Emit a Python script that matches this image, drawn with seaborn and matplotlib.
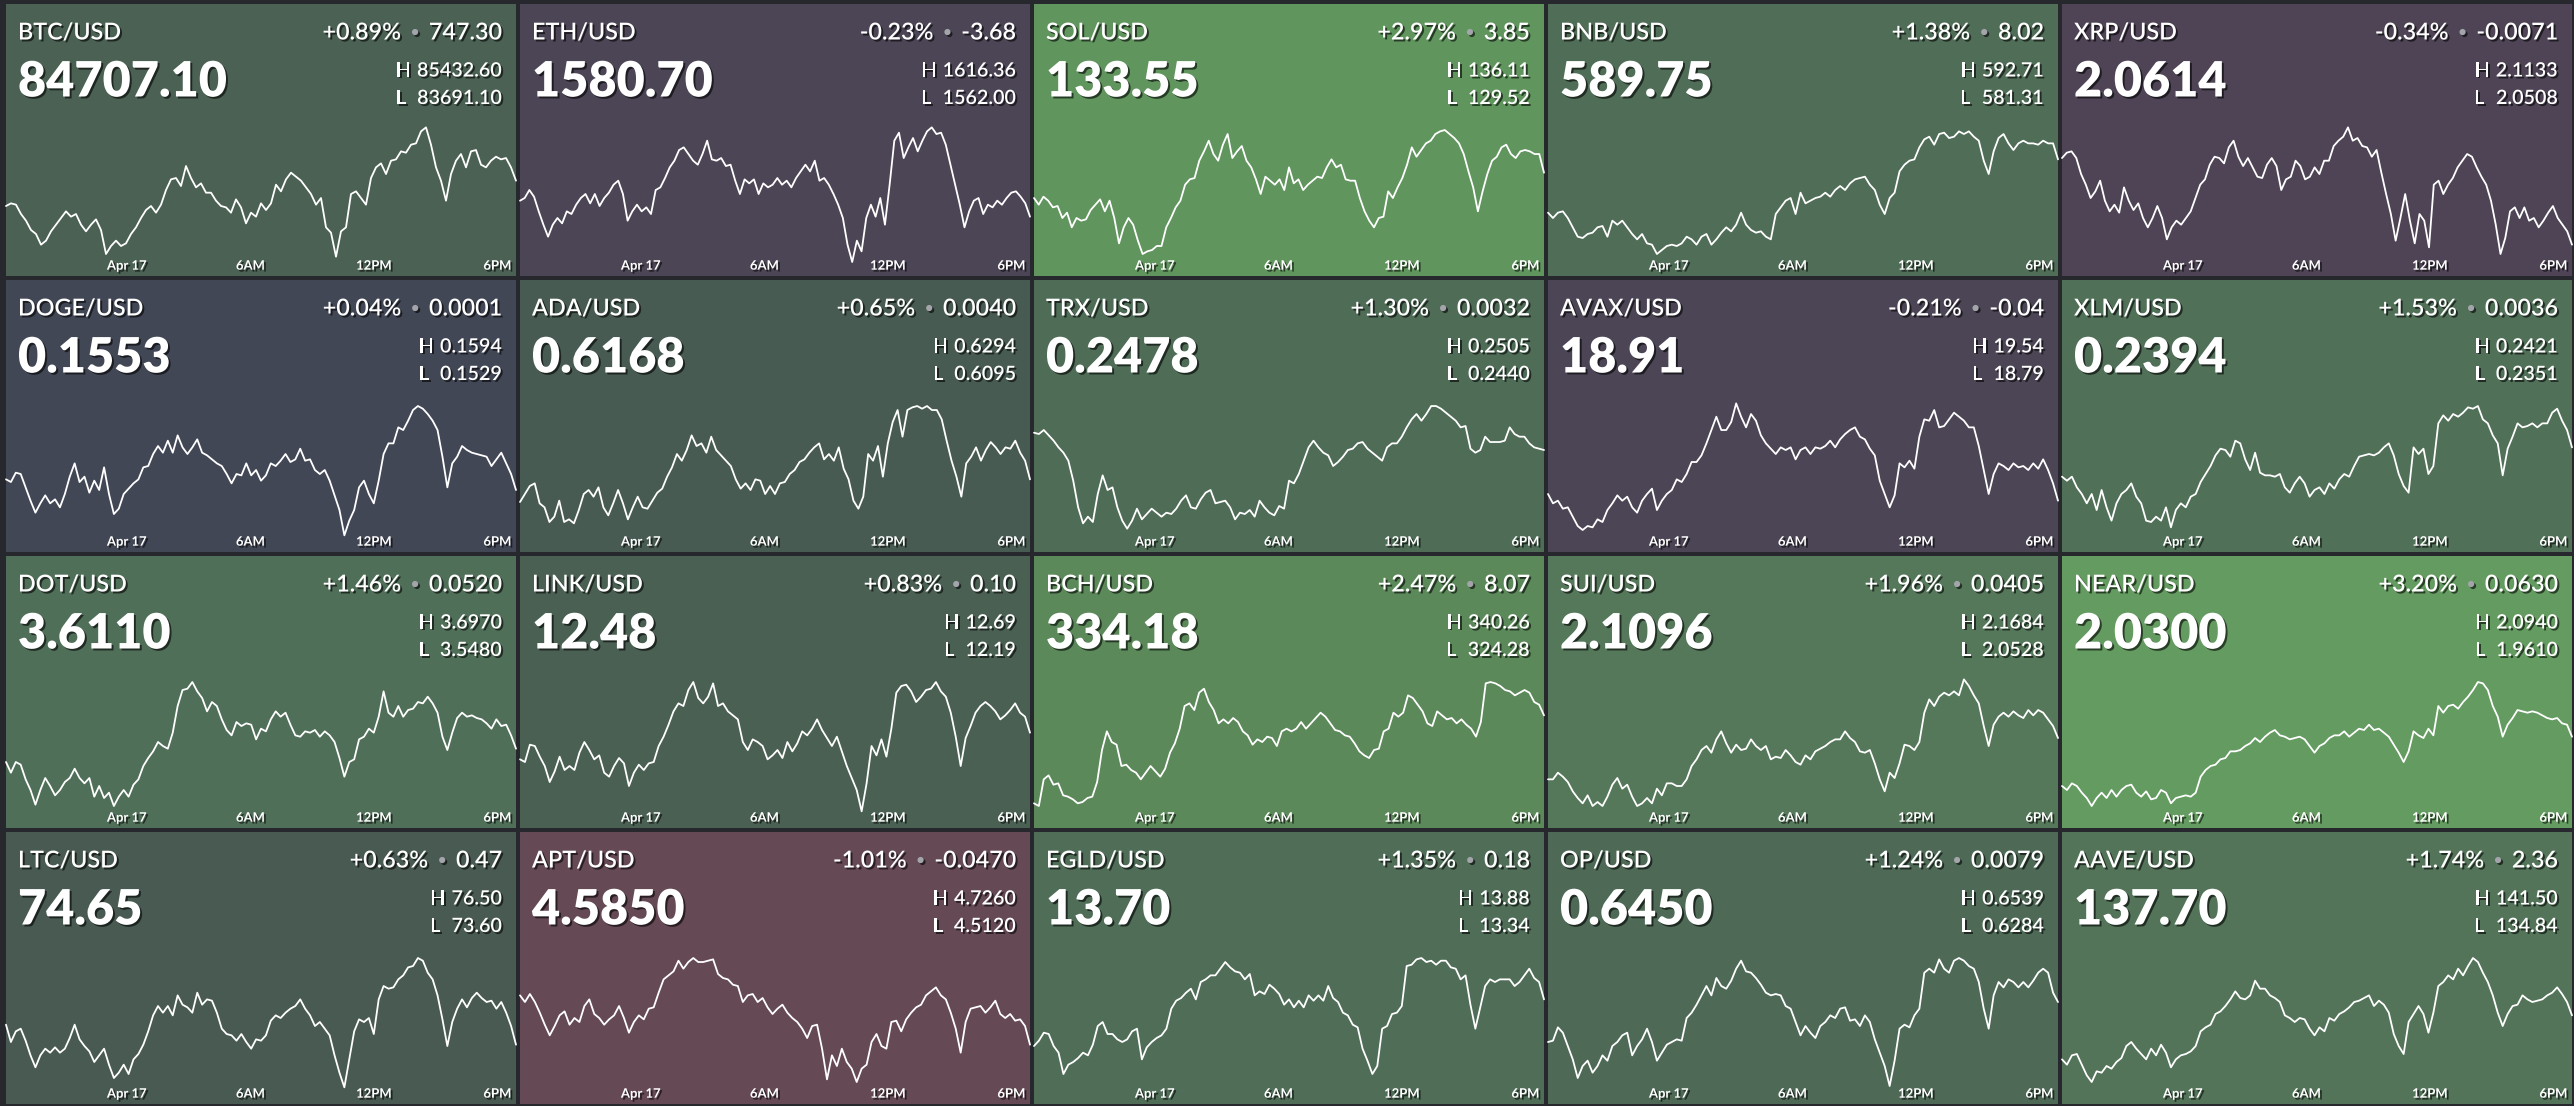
import numpy as np
import pandas as pd
import seaborn as sns
import matplotlib
matplotlib.use("Agg")
import matplotlib.pyplot as plt
import matplotlib.dates as mdates
from matplotlib import patheffects

# ---- tile data -------------------------------------------------------------
symbols = ["BTC/USD", "ETH/USD", "SOL/USD", "BNB/USD", "XRP/USD",
           "DOGE/USD", "ADA/USD", "TRX/USD", "AVAX/USD", "XLM/USD",
           "DOT/USD", "LINK/USD", "BCH/USD", "SUI/USD", "NEAR/USD",
           "LTC/USD", "APT/USD", "EGLD/USD", "OP/USD", "AAVE/USD"]
last_price = ["84707.10", "1580.70", "133.55", "589.75", "2.0614",
              "0.1553", "0.6168", "0.2478", "18.91", "0.2394",
              "3.6110", "12.48", "334.18", "2.1096", "2.0300",
              "74.65", "4.5850", "13.70", "0.6450", "137.70"]
pct_change = [0.89, -0.23, 2.97, 1.38, -0.34,
              0.04, 0.65, 1.30, -0.21, 1.53,
              1.46, 0.83, 2.47, 1.96, 3.20,
              0.63, -1.01, 1.35, 1.24, 1.74]
abs_change = ["747.30", "-3.68", "3.85", "8.02", "-0.0071",
              "0.0001", "0.0040", "0.0032", "-0.04", "0.0036",
              "0.0520", "0.10", "8.07", "0.0405", "0.0630",
              "0.47", "-0.0470", "0.18", "0.0079", "2.36"]
day_high = ["85432.60", "1616.36", "136.11", "592.71", "2.1133",
            "0.1594", "0.6294", "0.2505", "19.54", "0.2421",
            "3.6970", "12.69", "340.26", "2.1684", "2.0940",
            "76.50", "4.7260", "13.88", "0.6539", "141.50"]
day_low = ["83691.10", "1562.00", "129.52", "581.31", "2.0508",
           "0.1529", "0.6095", "0.2440", "18.79", "0.2351",
           "3.5480", "12.19", "324.28", "2.0528", "1.9610",
           "73.60", "4.5120", "13.34", "0.6284", "134.84"]

tick_times = ["2025-04-17 00:00", "2025-04-17 06:00", "2025-04-17 12:00", "2025-04-17 18:00"]
tick_labels = ["Apr 17", "6AM", "12PM", "6PM"]
window_start = "2025-04-16 18:08"
window_hours = 24.78

# sparkline paths, position inside the 24h range (0 = low, 100 = high)
btc = [39, 41, 40, 33, 28, 21, 18, 10, 13, 20, 25, 30, 35, 31, 33, 25, 20, 25, 29, 21, 3, 9, 13, 9, 11, 18, 23, 30, 36, 39,
       34, 40, 51, 59, 60, 54, 69, 60, 53, 56, 49, 49, 43, 39, 38, 34, 44, 38, 26, 34, 31, 41, 36, 41, 55, 50, 59, 64, 61, 58,
       53, 48, 40, 45, 23, 19, 1, 20, 23, 48, 50, 45, 40, 60, 68, 71, 63, 73, 74, 80, 79, 85, 86, 95, 98, 85, 68, 58, 43, 63,
       73, 78, 68, 80, 81, 70, 68, 73, 76, 74, 75, 68, 58]
eth = [43, 45, 51, 46, 35, 25, 16, 25, 30, 26, 35, 33, 40, 45, 48, 41, 48, 39, 45, 49, 55, 58, 48, 28, 35, 40, 35, 38, 33, 51,
       53, 60, 68, 73, 81, 83, 78, 73, 70, 78, 88, 74, 73, 75, 69, 70, 58, 48, 59, 56, 59, 48, 56, 53, 55, 60, 55, 58, 53, 60,
       65, 70, 65, 73, 58, 60, 55, 48, 40, 30, 10, -3, 13, 5, 30, 40, 31, 45, 25, 55, 88, 94, 75, 83, 90, 80, 88, 95, 98, 93,
       94, 85, 70, 55, 40, 23, 35, 43, 45, 33, 40, 38, 43, 40, 45, 49, 50, 46, 41, 31]
sol = [45, 40, 46, 43, 38, 39, 30, 34, 23, 30, 28, 29, 36, 40, 44, 35, 43, 30, 11, 23, 30, 25, 13, 3, 5, 6, 9, 9, 23, 30,
       38, 43, 55, 59, 60, 73, 80, 88, 78, 73, 85, 93, 75, 80, 84, 73, 68, 59, 48, 61, 58, 55, 59, 51, 68,
       56, 59, 51, 55, 58, 61, 60, 68, 74, 68, 70, 59, 58, 58, 45, 35, 28, 23, 30, 31, 50, 45, 53, 60, 70, 83, 76, 81, 86, 88,
       93, 95, 96, 93, 90, 86, 78, 65, 53, 35, 50, 63, 73, 76, 83, 85, 78, 75, 80, 81, 80, 78, 78, 64]
bnb = [34, 30, 34, 35, 30, 23, 16, 15, 18, 19, 23, 24, 16, 28, 25, 28, 23, 18, 14, 18, 11, 10, 3, 6, 9, 10, 9, 11, 16, 14,
       10, 16, 18, 10, 14, 19, 23, 20, 25, 34, 25, 21, 19, 20, 16, 14, 33, 38, 43, 45, 33, 49, 41, 43, 45, 46, 49, 46, 51, 54,
       51, 56, 59, 60, 61, 55, 51, 40, 33, 45, 49, 65, 70, 73, 74, 83, 89, 91, 85, 93, 94, 90, 91, 95, 93, 95, 91, 88, 73, 63,
       80, 90, 93, 86, 81, 86, 88, 86, 86, 85, 88, 86, 86, 74]
xrp = [75, 79, 80, 75, 63, 55, 45, 50, 58, 43, 35, 40, 34, 53, 43, 36, 41, 30, 23, 30, 39, 30, 14, 23, 28, 25, 30, 35, 45, 55,
       59, 70, 76, 75, 71, 83, 88, 76, 69, 75, 68, 61, 60, 70, 75, 69, 51, 59, 61, 73, 69, 59, 61, 68, 63, 73, 73, 84, 88, 91,
       98, 88, 90, 84, 83, 76, 81, 64, 48, 33, 13, 30, 48, 28, 11, 33, 28, 8, 55, 58, 48, 55, 60, 68, 73, 78, 76, 68, 61, 55,
       43, 25, 3, 15, 35, 38, 30, 38, 28, 30, 23, 28, 34, 39, 30, 25, 20, 10]
doge = [41, 39, 46, 45, 35, 25, 16, 23, 29, 23, 26, 20, 30, 43, 53, 39, 43, 31, 40, 33, 50, 30, 15, 19, 30, 34, 38, 41, 50, 51,
        60, 66, 61, 70, 61, 74, 65, 60, 65, 71, 61, 59, 56, 53, 51, 45, 38, 45, 44, 53, 44, 48, 40, 44, 53, 51, 55, 60, 54, 56,
        64, 55, 56, 48, 45, 48, 40, 29, 18, -1, 10, 18, 35, 40, 30, 23, 40, 60, 68, 68, 80, 78, 85, 93, 96, 94, 90, 85, 78, 58,
        35, 53, 58, 66, 63, 61, 60, 59, 58, 51, 56, 61, 53, 45, 33]
ada = [24, 30, 36, 38, 23, 20, 9, 13, 25, 9, 11, 8, 18, 30, 33, 28, 35, 20, 14, 23, 33, 23, 11, 20, 28, 20, 19, 25, 31, 34,
       43, 50, 60, 55, 63, 74, 66, 68, 61, 73, 63, 59, 55, 51, 41, 34, 38, 33, 41, 40, 30, 36, 30, 38, 39, 45, 48, 54, 56, 61,
       65, 68, 56, 60, 55, 65, 49, 41, 25, 19, 28, 60, 55, 66, 43, 68, 84, 93, 73, 93, 95, 96, 94, 96, 93, 93, 86, 70, 55, 43,
       28, 53, 58, 65, 55, 63, 69, 65, 60, 65, 64, 70, 61, 55, 41]
trx = [76, 75, 78, 74, 70, 65, 61, 55, 40, 20, 8, 13, 9, 30, 44, 33, 35, 20, 10, 4, 10, 19, 11, 15, 19, 16, 13, 16, 15, 19,
       25, 29, 20, 19, 26, 31, 33, 23, 24, 25, 20, 11, 16, 15, 18, 13, 25, 20, 16, 14, 21, 19, 40,
       38, 45, 55, 65, 70, 65, 61, 59, 51, 54, 58, 63, 64, 68, 69, 64, 61, 58, 55, 65, 68, 68, 73, 80, 86, 90, 85, 90, 96, 96,
       94, 91, 88, 85, 80, 81, 64, 61, 63, 73, 69, 69, 69, 70, 80, 75, 73, 73, 68, 65, 64, 63]
avax = [30, 23, 25, 19, 20, 13, 6, 3, 6, 5, 11, 9, 18, 23, 29, 25, 28, 20, 16, 25, 30, 34, 18, 25, 30, 33, 41, 39, 45, 54,
        54, 59, 68, 78, 88, 78, 78, 84, 98, 88, 80, 90, 85, 74, 68, 64, 60, 65, 63, 65, 56, 63, 65, 60, 65, 64, 66, 70, 65, 71,
        75, 78, 80, 73, 71, 64, 59, 40, 30, 20, 29, 53, 50, 55, 49, 73, 86, 85, 93, 80, 81, 86, 91, 88, 85, 80, 80, 66, 48, 30,
        45, 53, 51, 48, 53, 50, 51, 48, 53, 49, 56, 48, 38, 25]
xlm = [43, 40, 43, 35, 30, 23, 30, 18, 33, 20, 10, 23, 30, 33, 38, 28, 23, 10, 9, 13, 10, 20, 5, 18, 23, 20, 28, 30, 39, 45,
       51, 59, 64, 63, 58, 70, 68, 56, 48, 61, 46, 44, 44, 43, 45, 35, 31, 38, 43, 38, 28, 33, 35, 30, 38, 34, 41, 45, 43, 51,
       58, 59, 60, 59, 61, 65, 68, 59, 45, 36, 31, 65, 60, 64, 45, 51, 83, 89, 85, 90, 88, 91, 95, 94, 96, 86, 83, 74, 68, 44,
       64, 73, 83, 80, 81, 83, 80, 83, 83, 91, 94, 85, 78, 65]
dot = [36, 28, 36, 34, 23, 15, 4, 15, 24, 18, 11, 15, 21, 24, 31, 24, 20, 24, 10, 18, 9, 13, 3, 10, 15, 10, 19, 23, 33, 39,
       44, 51, 48, 46, 58, 78, 90, 91, 96, 89, 84, 74, 81, 78, 68, 60, 56, 66, 63, 65, 64, 53, 61, 59, 68, 74, 70, 73, 64, 56,
       55, 59, 58, 60, 55, 59, 56, 51, 39, 25, 36, 38, 53, 55, 61, 58, 70, 89, 73, 70, 78, 70, 75, 76, 81, 80, 85, 80, 73, 55,
       45, 58, 69, 73, 70, 71, 69, 68, 65, 61, 68, 63, 64, 56, 46]
link = [38, 36, 49, 48, 40, 33, 21, 29, 40, 30, 33, 30, 43, 51, 45, 38, 41, 28, 25, 33, 39, 35, 18, 28, 34, 30, 35, 36, 48, 55,
        64, 74, 80, 78, 90, 96, 84, 80, 85, 95, 78, 80, 74, 71, 68, 51, 45, 53, 51, 48, 38, 41, 45, 39, 51, 44, 50, 59, 56, 61,
        68, 60, 54, 48, 55, 44, 33, 24, 15, -1, 20, 48, 41, 53, 40, 61, 88, 93, 94, 89, 81, 85, 90, 91, 96, 89, 85, 73, 55, 33,
        54, 63, 73, 78, 81, 78, 74, 68, 71, 75, 80, 73, 70, 58]
bch = [5, 3, 23, 26, 19, 20, 11, 10, 8, 5, 6, 9, 10, 21, 45, 59, 51, 49, 33, 34, 30, 28, 23, 28, 33, 29, 25, 31, 43, 50,
       61, 78, 80, 75, 88, 91, 81, 75, 65, 68, 65, 69, 66, 59, 56, 49, 53, 51, 55, 54, 48, 59, 61,
       59, 61, 66, 61, 65, 69, 73, 70, 65, 60, 59, 56, 55, 50, 44, 41, 39, 45, 46, 59, 61, 73, 70, 73, 86, 84, 79, 74, 65, 63,
       74, 71, 68, 69, 65, 68, 64, 61, 55, 66, 95, 96, 95, 93, 90, 89, 86, 88, 90, 88, 81, 79, 71]
sui = [23, 23, 28, 25, 21, 14, 9, 5, 11, 3, 6, 3, 10, 19, 24, 16, 19, 10, 3, 5, 9, 5, 16, 11, 20, 20, 18, 18, 23, 33,
       38, 45, 48, 43, 53, 59, 50, 43, 49, 45, 46, 53, 48, 45, 48, 38, 40, 39, 45, 41, 36, 34, 41, 38, 44, 46, 48, 51, 53, 53,
       59, 54, 51, 44, 43, 45, 35, 23, 14, 28, 24, 35, 49, 48, 45, 51, 73, 83, 78, 85, 88, 86, 89, 86, 98, 93, 86, 80, 63, 48,
       64, 70, 73, 70, 74, 71, 69, 75, 71, 75, 73, 68, 63, 54]
near = [18, 15, 20, 18, 13, 9, 3, 9, 13, 9, 15, 10, 15, 18, 19, 13, 10, 14, 8, 9, 15, 13, 5, 9, 10, 11, 10, 13, 25, 30,
        33, 34, 38, 39, 44, 44, 45, 48, 50, 54, 51, 55, 58, 60, 56, 55, 53, 54, 55, 53, 48, 43, 48, 50, 54, 56, 56, 59, 55, 58,
        61, 60, 64, 60, 61, 58, 55, 49, 43, 36, 44, 59, 56, 54, 61, 56, 78, 73, 78, 79, 76, 81, 85, 90, 96, 95, 90, 78, 70, 55,
        64, 69, 75, 74, 73, 74, 73, 71, 69, 68, 69, 65, 64, 55]
ltc = [46, 33, 41, 43, 34, 23, 14, 23, 28, 25, 29, 25, 28, 36, 46, 35, 30, 26, 18, 23, 28, 16, 6, 10, 16, 9, 20, 24, 31, 41,
       53, 60, 55, 60, 53, 68, 61, 59, 55, 70, 61, 65, 64, 55, 43, 39, 38, 34, 39, 33, 28, 35, 34, 38, 49, 53, 51, 55, 58, 60,
       65, 58, 53, 45, 48, 43, 38, 23, 10, -1, 20, 41, 50, 48, 51, 39, 65, 75, 73, 74, 80, 83, 89, 90, 96, 94, 85, 80, 68, 50,
       30, 48, 58, 65, 59, 66, 70, 66, 63, 64, 58, 63, 55, 45, 31]
apt = [68, 63, 69, 63, 55, 46, 38, 45, 53, 56, 46, 51, 48, 60, 65, 54, 51, 46, 50, 53, 60, 51, 40, 48, 53, 50, 58, 59, 70, 80,
       83, 86, 94, 88, 93, 96, 93, 93, 94, 95, 84, 81, 80, 76, 75, 63, 68, 69, 63, 66, 59, 54, 58, 61, 55, 51, 48, 43, 36, 45,
       46, 28, 5, 23, 15, 28, 18, 13, 3, 13, 16, 33, 39, 30, 28, 48, 49, 41, 50, 55, 59, 61, 68, 71, 74, 68, 65, 55, 43, 25,
       48, 58, 59, 60, 55, 59, 64, 54, 51, 54, 49, 50, 45, 31]
egld = [30, 34, 40, 39, 30, 25, 9, 16, 18, 21, 25, 23, 31, 45, 48, 39, 39, 35, 33, 35, 41, 43, 20, 29, 33, 36, 38, 43, 58, 64,
        66, 70, 73, 65, 78, 80, 83, 83, 88, 93, 89, 86, 85, 80, 84, 68, 71, 69, 76, 73, 69, 61,
        65, 59, 64, 59, 68, 64, 68, 64, 75, 66, 63, 55, 53, 46, 44, 28, 19, 9, 15, 43, 45, 54, 55, 60, 90, 91, 95, 96, 93, 94,
        91, 94, 94, 89, 88, 80, 83, 61, 43, 59, 75, 80, 78, 80, 80, 80, 75, 78, 83, 88, 81, 78, 65]
op = [33, 34, 44, 40, 30, 20, 6, 15, 19, 10, 15, 23, 19, 30, 33, 38, 40, 23, 30, 35, 43, 33, 19, 25, 31, 33, 35, 34, 51, 55,
      61, 68, 75, 68, 81, 75, 73, 79, 88, 94, 86, 85, 81, 76, 70, 68, 69, 68, 60, 58, 48, 38, 45, 40, 36, 45, 48, 53, 51, 58,
      59, 49, 50, 45, 53, 48, 35, 25, 15, 0, 19, 43, 46, 44, 53, 58, 85, 88, 85, 95, 88, 85, 94, 96, 94, 90, 88, 78, 58, 43,
      68, 78, 74, 80, 78, 74, 78, 74, 79, 85, 88, 85, 70, 63]
aave = [20, 16, 23, 24, 16, 8, 3, 11, 10, 15, 13, 18, 21, 30, 33, 28, 24, 20, 28, 23, 31, 25, 14, 20, 23, 24, 26, 30, 41, 44,
        46, 54, 56, 60, 65, 71, 66, 65, 68, 79, 73, 73, 68, 66, 63, 53, 51, 48, 51, 50, 43, 38, 44, 41, 51, 49, 54, 56, 59, 63,
        64, 66, 68, 60, 64, 61, 55, 39, 30, 24, 48, 54, 60, 54, 40, 55, 75, 78, 83, 80, 88, 83, 90, 96, 93, 85, 78, 68, 55, 45,
        54, 60, 61, 68, 65, 63, 64, 65, 68, 70, 74, 69, 63, 53]

paths = [btc, eth, sol, bnb, xrp, doge, ada, trx, avax, xlm,
         dot, link, bch, sui, near, ltc, apt, egld, op, aave]

# ---- styling ---------------------------------------------------------------
W, H = 2574, 1106
BG = "#26282d"
TILE_W, TILE_H = 510, 272
PITCH_X, PITCH_Y = 514, 276
ORIGIN_X, ORIGIN_Y = 6, 4

# tile colour follows the % change (red-ish below zero, green above)
c_stops = [-1.01, -0.30, -0.20, 0.0, 0.65, 1.30, 2.00, 2.50, 3.20]
r_stops = [101, 77, 76, 66, 72, 79, 85, 92, 100]
g_stops = [73, 68, 69, 70, 91, 108, 121, 138, 155]
b_stops = [85, 85, 85, 86, 82, 87, 90, 90, 96]


def tile_color(p):
    return tuple(np.interp(p, c_stops, ch) / 255 for ch in (r_stops, g_stops, b_stops))


sns.set_theme(style="dark")
plt.rcParams["font.family"] = ["Lato", "DejaVu Sans"]

shadow = [patheffects.withSimplePatchShadow(offset=(1.4, -1.4), shadow_rgbFace="black", alpha=0.6)]

fig = plt.figure(figsize=(W / 100, H / 100), dpi=100, facecolor=BG)
renderer = fig.canvas.get_renderer()


def put(x, y, s, **kw):
    # x, y in pixels from the top-left corner
    kw.setdefault("color", "white")
    kw.setdefault("va", "baseline")
    return fig.text(x / W, 1 - y / H, s, path_effects=shadow, **kw)


def left_edge(t):
    return t.get_window_extent(renderer).x0


t0 = pd.Timestamp(window_start)
t1 = t0 + pd.Timedelta(hours=window_hours)
xticks = mdates.date2num(pd.to_datetime(tick_times).to_pydatetime())

HEAD = 16.8
HL = 14.2

for i, sym in enumerate(symbols):
    row, col = divmod(i, 5)
    left = ORIGIN_X + col * PITCH_X
    top = ORIGIN_Y + row * PITCH_Y

    bg = fig.add_axes([left / W, 1 - (top + TILE_H) / H, TILE_W / W, TILE_H / H])
    bg.set_facecolor(tile_color(pct_change[i]))
    bg.set_xticks([])
    bg.set_yticks([])
    for s in bg.spines.values():
        s.set_visible(False)

    # sparkline
    ch_bottom = top + 254
    ch_h = 133.3
    ax = fig.add_axes([left / W, 1 - ch_bottom / H, TILE_W / W, ch_h / H])
    ax.set_facecolor("none")
    df = pd.DataFrame({"time": pd.date_range(t0, t1, periods=len(paths[i])),
                       "level": paths[i]})
    sns.lineplot(data=df, x="time", y="level", ax=ax, color="white",
                 linewidth=1.3, estimator=None, sort=False, clip_on=False)
    ax.set_xlim(mdates.date2num(t0.to_pydatetime()), mdates.date2num(t1.to_pydatetime()))
    ax.set_ylim(0, 100)
    ax.set_xticks(xticks, labels=tick_labels)
    ax.set_yticks([])
    ax.set_xlabel("")
    ax.set_ylabel("")
    ax.grid(False)
    for s in ax.spines.values():
        s.set_visible(False)
    ax.tick_params(axis="x", length=0, pad=1.2, labelsize=9.4, labelcolor="white")
    for lab in ax.get_xticklabels():
        lab.set_fontweight("bold")
        lab.set_path_effects(shadow)

    # header texts
    right = left + 496
    put(left + 12, top + 35.5, sym, fontsize=HEAD, fontweight="semibold")
    put(left + 12, top + 92.5, last_price[i], fontsize=35, fontweight="heavy")

    t_chg = put(right, top + 35.5, abs_change[i], fontsize=HEAD, fontweight="semibold", ha="right")
    t_dot = put(left_edge(t_chg) - 9, top + 33, "\u2022", fontsize=12, ha="right",
                color="#a3a5aa")
    put(left_edge(t_dot) - 9, top + 35.5, f"{pct_change[i]:+.2f}%", fontsize=HEAD,
        fontweight="semibold", ha="right")

    t_hi = put(right, top + 72.5, day_high[i], fontsize=HL, fontweight="semibold", ha="right")
    t_lo = put(right, top + 100, day_low[i], fontsize=HL, fontweight="semibold", ha="right")
    t_h = put(min(left_edge(t_hi), left_edge(t_lo)) - 6, top + 72.5, "H", fontsize=HL,
              fontweight="semibold", ha="right")
    put(left_edge(t_h), top + 100, "L", fontsize=HL, fontweight="semibold", ha="left")

fig.savefig("out.png", dpi=100, facecolor=BG)
